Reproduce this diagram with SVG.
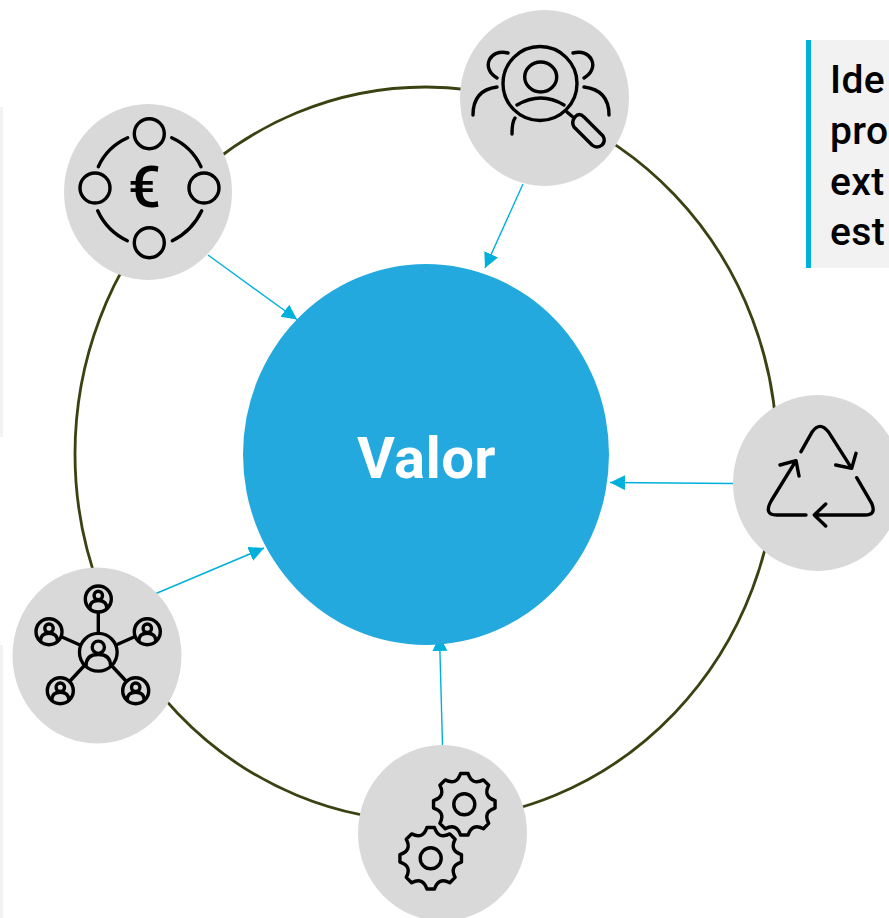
<svg xmlns="http://www.w3.org/2000/svg" xmlns:xlink="http://www.w3.org/1999/xlink" width="889" height="918" viewBox="0 0 889 918">
<style>
.n{fill:#d9d9d9}
.i{fill:none;stroke:#000;stroke-width:3.400;stroke-linecap:round;stroke-linejoin:round}
.c{fill:none;stroke:#00b0dc;stroke-width:1.400;marker-end:url(#a)}
.t{font-family:"Roboto","Liberation Sans",sans-serif;font-weight:500;font-size:39px;letter-spacing:0.400px;fill:#000}
</style>
<defs>
<marker id="a" markerUnits="userSpaceOnUse" markerWidth="16" markerHeight="16" refX="15" refY="7.500" orient="auto"><path d="M0 0L15 7.500L0 15Z" fill="#00b0dc"/></marker>
<path id="g" d="M-3.780-30.770L3.780-30.770Q7.650-18.480 19.090-24.430L24.430-19.090Q18.480-7.650 30.770-3.780L30.770 3.780Q18.480 7.650 24.430 19.090L19.090 24.430Q7.650 18.480 3.780 30.770L-3.780 30.770Q-7.650 18.480-19.090 24.430L-24.430 19.090Q-18.480 7.650-30.770 3.780L-30.770-3.780Q-18.480-7.650-24.430-19.090L-19.090-24.430Q-7.650-18.480-3.780-30.770Z"/>
<g id="p"><circle r="13"/><circle cy="-3.500" r="4.200"/><path d="M-8.500 9.500Q-8.500 1.500 0 1.500Q8.500 1.500 8.500 9.500"/></g>
</defs>
<rect width="889" height="918" fill="#fff"/>
<g id="side-strips" fill="#f2f2f2"><rect x="0" y="107" width="3" height="330"/><rect x="0" y="645" width="3" height="273"/></g>
<g id="connectors">
<ellipse cx="426" cy="454" rx="351" ry="367" fill="none" stroke="#3b4212" stroke-width="2.800"/>
<path class="c" d="M523 184L485 268"/>
<path class="c" d="M208 255L297 319.500"/>
<path class="c" d="M733 483.500L610 482.500"/>
<path class="c" d="M156 593.500L264 548"/>
<path class="c" d="M442.500 745L439.500 636"/>
</g>
<g id="valor"><ellipse cx="426" cy="454.500" rx="183" ry="190.500" fill="#23a9de"/><text x="426.500" y="477.500" text-anchor="middle" font-family="Roboto,'Liberation Sans',sans-serif" font-weight="700" font-size="58" letter-spacing="0.400" fill="#fff">Valor</text></g>
<g id="research"><ellipse class="n" cx="544.500" cy="98" rx="84.500" ry="88"/>
<g class="i"><circle cx="540" cy="83.500" r="37"/><ellipse cx="540.700" cy="77" rx="16" ry="15"/><path d="M517 105Q541 91 564 105M567 112L574 118M508 53C490 48 480 68 497 78M573 53C591 48 601 68 584 78M497 87Q473 90 473 115M584 87Q609 90 609 115M515 118Q512 122 512 134"/><path d="M575 117Q579 112 584 117L603 136Q606 141 602 145Q597 149 592 145L574 127Q571 122 575 117Z"/></g></g>
<g id="euro"><ellipse class="n" cx="148" cy="192" rx="84" ry="88"/>
<g class="i"><circle cx="149.300" cy="133.700" r="15"/><circle cx="95" cy="188" r="15"/><circle cx="204" cy="188" r="15"/><circle cx="149.300" cy="242.700" r="15"/><path d="M127.700 137.700Q107 147 98.300 166.700M171.700 137.700Q192 147 201 166.700M97.700 210.700Q107 231 127.300 240.700M201.700 210.700Q192 231 172.300 240.700"/></g>
<text x="144.500" y="207" text-anchor="middle" font-family="Roboto,'Liberation Sans',sans-serif" font-weight="500" font-size="58" fill="#000">€</text></g>
<g id="recycle"><ellipse class="n" cx="817.500" cy="483" rx="84.500" ry="88"/>
<path class="i" d="M801 451.700L812.300 431.700Q820 421 828.300 431.700L851.700 468.300M835.700 465L851.700 468.300L856 453.300M856.700 477.700L871.700 503.300Q876.700 515 865 515L814.300 515M825.700 504L814.300 515L825.700 526M806 515L776.700 515Q763 515 771.700 500L796 460.700M780 465L796 460.700L799 476"/></g>
<g id="network"><ellipse class="n" cx="97" cy="655.500" rx="84.500" ry="88"/>
<g class="i"><path d="M98.300 613V633M62 637L80 645M134 637L116 645M70 681L84 666M126 681L112 666"/>
<use xlink:href="#p" href="#p" transform="translate(98.300 599)"/><use xlink:href="#p" href="#p" transform="translate(49 631.700)"/><use xlink:href="#p" href="#p" transform="translate(147.300 631.700)"/><use xlink:href="#p" href="#p" transform="translate(60.300 690.700)"/><use xlink:href="#p" href="#p" transform="translate(135.700 690.700)"/>
<use xlink:href="#p" href="#p" transform="translate(98.300 652.300) scale(1.450)" style="stroke-width:2.300"/></g></g>
<g id="gears"><ellipse class="n" cx="442.500" cy="833" rx="84.500" ry="88"/>
<g class="i"><use xlink:href="#g" href="#g" transform="translate(464.300 804.300)"/><circle cx="464.300" cy="804.300" r="10.500"/><use xlink:href="#g" href="#g" transform="translate(430.700 858.300)"/><circle cx="430.700" cy="858.300" r="10.500"/></g></g>
<g id="note"><rect x="806" y="40" width="83" height="228" fill="#f2f2f2"/><rect x="806" y="40" width="5" height="228" fill="#00b0dc"/>
<text class="t" x="830" y="93">Ide</text><text class="t" x="830" y="144">pro</text><text class="t" x="830" y="195">ext</text><text class="t" x="830" y="245">est</text></g>
</svg>
